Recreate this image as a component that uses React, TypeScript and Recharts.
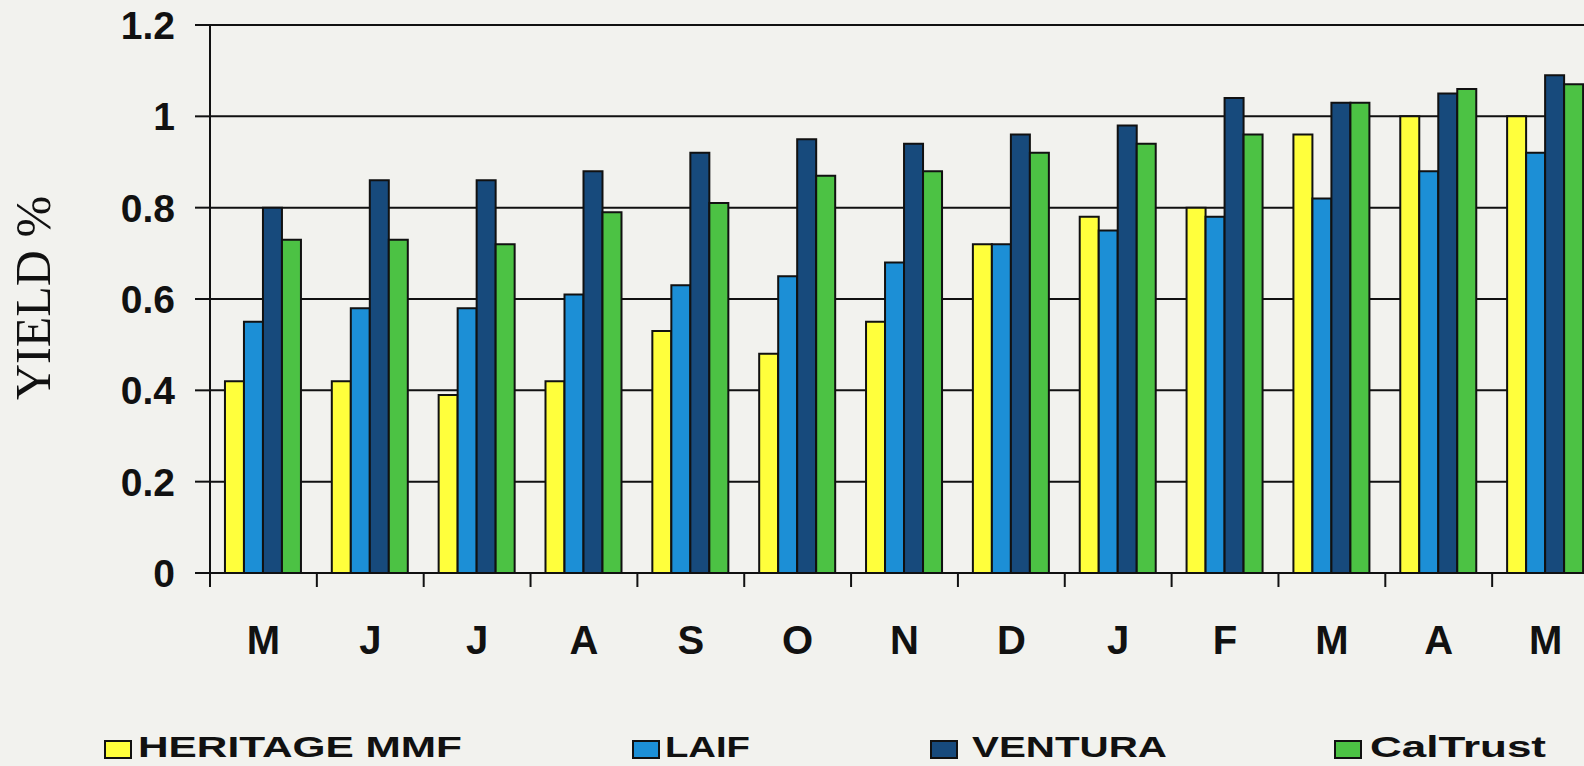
import { Bar, BarChart, CartesianGrid, XAxis, YAxis } from 'recharts'

const months = ['M', 'J', 'J', 'A', 'S', 'O', 'N', 'D', 'J', 'F', 'M', 'A', 'M']
const heritage = [0.42, 0.42, 0.39, 0.42, 0.53, 0.48, 0.55, 0.72, 0.78, 0.8, 0.96, 1.0, 1.0]
const laif = [0.55, 0.58, 0.58, 0.61, 0.63, 0.65, 0.68, 0.72, 0.75, 0.78, 0.82, 0.88, 0.92]
const ventura = [0.8, 0.86, 0.86, 0.88, 0.92, 0.95, 0.94, 0.96, 0.98, 1.04, 1.03, 1.05, 1.09]
const caltrust = [0.73, 0.73, 0.72, 0.79, 0.81, 0.87, 0.88, 0.92, 0.94, 0.96, 1.03, 1.06, 1.07]
const yTicks = [0, 0.2, 0.4, 0.6, 0.8, 1, 1.2]

const series = [
  { key: 'heritage', name: 'HERITAGE MMF', color: '#ffff3c' },
  { key: 'laif', name: 'LAIF', color: '#1c8fd6' },
  { key: 'ventura', name: 'VENTURA', color: '#174a7c' },
  { key: 'caltrust', name: 'CalTrust', color: '#4cc244' },
]

const data = months.map((month, i) => ({
  month,
  heritage: heritage[i],
  laif: laif[i],
  ventura: ventura[i],
  caltrust: caltrust[i],
}))

const CHART_W = 1600
const CHART_H = 766
const AXIS_W = 210
const RIGHT = 1
const BAND = (CHART_W - AXIS_W - RIGHT) / months.length
const FONT = '"Liberation Sans", Arial, Helvetica, sans-serif'

// legend layout
const legendPos = [
  { box: 105, text: 138, width: 324 },
  { box: 633, text: 665, width: 85 },
  { box: 931, text: 972, width: 195 },
  { box: 1335, text: 1370, width: 176 },
]

function MonthTick(props: any) {
  const { x, y, payload } = props
  return (
    <g>
      <line
        x1={x - BAND / 2}
        x2={x - BAND / 2}
        y1={y - 53}
        y2={y - 39}
        stroke="#111"
        strokeWidth={2}
      />
      <text
        x={x}
        y={y}
        dy="0.71em"
        textAnchor="middle"
        fontFamily={FONT}
        fontWeight="bold"
        fontSize={40}
        fill="#111"
      >
        {payload.value}
      </text>
    </g>
  )
}

function YieldLabel() {
  return (
    <text
      x={50}
      y={298}
      transform="rotate(-90 50 298)"
      textAnchor="middle"
      fontFamily='"Liberation Serif", "Times New Roman", serif'
      fontSize={50}
      fill="#111"
    >
      YIELD %
    </text>
  )
}

function Legend() {
  return (
    <svg
      width={1584}
      height={766}
      style={{ position: 'absolute', left: 0, top: 0, pointerEvents: 'none' }}
    >
      {series.map((s, i) => (
        <g key={s.key}>
          <rect
            x={legendPos[i].box}
            y={741}
            width={26}
            height={17}
            fill={s.color}
            stroke="#111"
            strokeWidth={2}
          />
          <text
            x={legendPos[i].text}
            y={757}
            textLength={legendPos[i].width}
            lengthAdjust="spacingAndGlyphs"
            fontFamily={FONT}
            fontWeight="bold"
            fontSize={30}
            fill="#111"
          >
            {s.name}
          </text>
        </g>
      ))}
    </svg>
  )
}

export default function App() {
  return (
    <div
      style={{
        position: 'absolute',
        left: 0,
        top: 0,
        width: 1584,
        height: 766,
        overflow: 'hidden',
        background: '#f2f2ee',
      }}
    >
      <BarChart
        width={CHART_W}
        height={CHART_H}
        data={data}
        margin={{ top: 25, right: RIGHT, left: 0, bottom: 0 }}
        barCategoryGap="14%"
        barGap={0}
      >
        <CartesianGrid vertical={false} stroke="#111" strokeWidth={2} />
        <XAxis
          dataKey="month"
          height={193}
          axisLine={{ stroke: '#111', strokeWidth: 2 }}
          tickLine={false}
          tickSize={14}
          tickMargin={39}
          interval={0}
          tick={<MonthTick />}
        />
        <YAxis
          width={AXIS_W}
          domain={[0, 1.2]}
          ticks={yTicks}
          interval={0}
          axisLine={{ stroke: '#111', strokeWidth: 2 }}
          tickLine={{ stroke: '#111', strokeWidth: 2 }}
          tickSize={15}
          tickMargin={20}
          tick={{ fontFamily: FONT, fontWeight: 'bold', fontSize: 39, fill: '#111' }}
          label={{ content: () => <YieldLabel /> }}
        />
        {series.map((s) => (
          <Bar
            key={s.key}
            dataKey={s.key}
            name={s.name}
            fill={s.color}
            stroke="#111"
            strokeWidth={2}
            isAnimationActive={false}
          />
        ))}
      </BarChart>
      <Legend />
    </div>
  )
}
